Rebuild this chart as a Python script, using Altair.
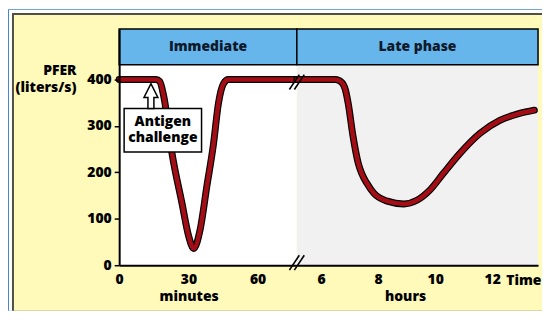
import altair as alt
import pandas as pd

# ---- data ----
minutes = [0, 16, 17.6, 19.4, 22.9, 27.2, 30.1, 32.3, 35.1, 38.0, 40.9, 43.0, 45.2, 47.3, 77]
pfer_minutes = [400, 400, 396, 362, 241, 134, 63, 36, 77, 170, 262, 348, 391, 400, 400]

hours = [5.146, 6.5, 6.72, 6.85, 6.95, 7.12, 7.30, 7.42, 7.60, 7.85, 8.32, 8.90, 9.36, 9.83,
         10.29, 10.87, 11.57, 12.27, 12.96, 13.48]
pfer_hours = [400, 400, 394, 378, 348, 277, 220, 198, 177, 155, 138, 132, 140, 163,
              198, 241, 284, 312, 327, 334]

y_ticks = [0, 100, 200, 300, 400]
min_ticks = [0, 30, 60]
hour_ticks = [6, 8, 10, 12]
phase_labels = ["Immediate", "Late phase"]
annotation = ["Antigen", "challenge"]
y_title = ["PFER", "(liters/s)"]

# ---- styles ----
FONT = "Open Sans"
WEIGHT = 800
YELLOW = "#FFF9BA"
HEADER_BLUE = "#66B6EC"
LATE_BG = "#F1F1F1"
LINE_RED = "#A30E16"
W_L, W_R, H = 179, 243, 238
Y_MAX = 509

one = pd.DataFrame({"k": [0]})
df_min = pd.DataFrame({"minutes": minutes, "pfer": pfer_minutes})
df_hr = pd.DataFrame({"hours": hours, "pfer": pfer_hours})

yscale = alt.Scale(domain=[0, Y_MAX], nice=False, zero=False)


def rect(x, x2, y, y2, **kw):
    return alt.Chart(one).mark_rect(**kw).encode(
        x=alt.value(x), x2=alt.value(x2), y=alt.value(y), y2=alt.value(y2))


def rule(x, x2, y, y2):
    return alt.Chart(one).mark_rule(color="black", strokeWidth=1.6).encode(
        x=alt.value(x), x2=alt.value(x2), y=alt.value(y), y2=alt.value(y2))


def text(s, x, y, color="black", **kw):
    return alt.Chart(one).mark_text(text=s, font=FONT, fontWeight=WEIGHT, fontSize=14,
                                    color=color, **kw).encode(x=alt.value(x), y=alt.value(y))


yaxis = alt.Axis(values=y_ticks, title=None,
                 labelFont=FONT, labelFontSize=14, labelFontWeight=WEIGHT, labelColor="black",
                 labelPadding=3, tickSize=5, tickColor="black", tickWidth=1.5,
                 domainColor="black", domainWidth=2, grid=False, zindex=1)

xaxis_min = alt.Axis(values=min_ticks, format="d", title="minutes", titleX=70, titleY=36,
                     titleBaseline="alphabetic", titleFont=FONT, titleFontSize=14,
                     titleFontWeight=WEIGHT, titleColor="black",
                     labelFont=FONT, labelFontSize=14, labelFontWeight=WEIGHT, labelColor="black",
                     labelPadding=7, tickSize=0, ticks=False, domainColor="black", domainWidth=2,
                     grid=False, zindex=1, labelFlush=False)

xaxis_hr = alt.Axis(values=hour_ticks, format="d", title="hours", titleX=109, titleY=36,
                    titleBaseline="alphabetic", titleFont=FONT, titleFontSize=14,
                    titleFontWeight=WEIGHT, titleColor="black",
                    labelFont=FONT, labelFontSize=14, labelFontWeight=WEIGHT, labelColor="black",
                    labelPadding=7, tickSize=0, ticks=False, domainColor="black", domainWidth=2,
                    grid=False, zindex=1, labelFlush=False)

enc_min = dict(
    x=alt.X("minutes:Q", scale=alt.Scale(domain=[0, 77], nice=False, zero=False), axis=xaxis_min),
    y=alt.Y("pfer:Q", scale=yscale, axis=yaxis),
)
enc_hr = dict(
    x=alt.X("hours:Q", scale=alt.Scale(domain=[5.146, 13.61], nice=False, zero=False), axis=xaxis_hr),
    y=alt.Y("pfer:Q", scale=yscale, axis=None),
)


def curve(df, enc, color, width):
    return alt.Chart(df).mark_line(interpolate="monotone", color=color, strokeWidth=width,
                                   strokeCap="round", strokeJoin="round").encode(**enc)


arrow_path = "M0,-1L0.56,0.12L0.24,0.12L0.24,1L-0.24,1L-0.24,0.12L-0.56,0.12Z"
arrow = alt.Chart(one).mark_point(shape=arrow_path, size=625, filled=True, fill="white",
                                  stroke="black", strokeWidth=1.5, opacity=1).encode(
    x=alt.value(32), y=alt.value(67.5))

left = alt.layer(
    rect(-112, 426, -20, 284, color="#4A84D6"),
    rect(-111, 426, -19, 284, color="white"),
    rect(-108, 426, -16, 284, color="#4F4F48"),
    rect(-106, 426, -14, 284, color=YELLOW),
    rect(0, W_L, 0, H, color="white"),
    curve(df_min, enc_min, "black", 7),
    curve(df_min, enc_min, LINE_RED, 4.6),
    rect(0, W_L, 0, 36, fill=HEADER_BLUE, stroke="black", strokeWidth=1.5),
    text(phase_labels[0], W_L / 2, 18, baseline="middle", align="center", color="#0E1A2B"),
    text(y_title[0], -43, 46, baseline="alphabetic", align="right"),
    text(y_title[1], -43, 63, baseline="alphabetic", align="right"),
    rect(5, 83, 80, 124, fill="white", stroke="black", strokeWidth=1.5),
    text(annotation[0], 44, 94, baseline="middle", align="center"),
    text(annotation[1], 44, 110, baseline="middle", align="center"),
    arrow,
).properties(width=W_L, height=H)

right = alt.layer(
    rect(0, W_R, 0, H, color=LATE_BG),
    curve(df_hr, enc_hr, "black", 7),
    curve(df_hr, enc_hr, LINE_RED, 4.6),
    rect(0, W_R, 0, 36, fill=HEADER_BLUE, stroke="black", strokeWidth=1.5),
    text(phase_labels[1], W_R / 2, 18, baseline="middle", align="center", color="#0E1A2B"),
    rule(-7.5, 2.5, 61, 46),
    rule(-2.5, 7.5, 61, 46),
    rule(-7.5, 2.5, 243, 228),
    rule(-2.5, 7.5, 243, 228),
    text("Time", 211, 247, baseline="top", align="left"),
).properties(width=W_R, height=H)

chart = alt.hconcat(left, right, spacing=0, bounds="flush").resolve_scale(
    x="independent", y="independent"
).properties(padding=0, background="white").configure_view(strokeWidth=0)

chart.save("out.html", embed_options={"renderer": "svg", "actions": False})
